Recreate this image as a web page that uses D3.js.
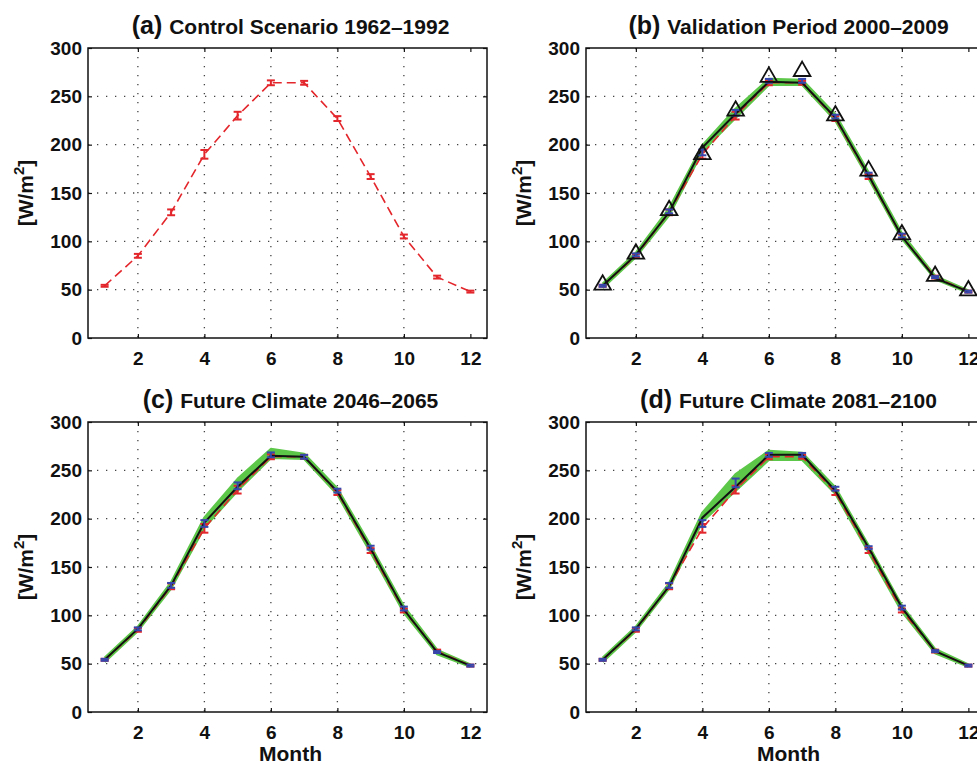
<!DOCTYPE html>
<html>
<head>
<meta charset="utf-8">
<script src="https://cdn.jsdelivr.net/npm/d3@7"></script>
<style>
  body { margin: 0; background: #fff; }
  svg { display: block; font-family: "Liberation Sans", Arial, Helvetica, sans-serif; }
  .tick-label { font-size: 19px; font-weight: bold; fill: #111; }
  .axis-title { font-size: 21px; font-weight: bold; fill: #111; }
</style>
</head>
<body>
<svg id="chart" width="977" height="766"></svg>
<script>
const months = [1, 2, 3, 4, 5, 6, 7, 8, 9, 10, 11, 12];
const xTicks = [2, 4, 6, 8, 10, 12];
const yTicks = [0, 50, 100, 150, 200, 250, 300];

// control run 1962-1992 (red dashed, shown in every panel)
const controlMean = [54, 85, 130, 190, 230, 264, 264, 227, 167, 105, 63, 48];
const controlErr = [1, 2, 3, 4.5, 4, 2.5, 2, 2.5, 2.5, 2, 1.5, 1];

// (b) validation 2000-2009
const obsValidation = [55, 87, 132, 190, 235, 270, 276, 230, 173, 107, 64, 49];
const valEnsMean = [54, 86, 130, 197, 232, 265, 264, 228, 168, 105, 62, 48];
const valModel = [54, 86, 131, 192, 233, 266, 266, 229, 169, 106, 63, 48];
const valModelErr = [1, 1.5, 2, 3, 3, 2, 2, 2, 2, 2, 1, 1];
const valEnsLow = [52, 84, 127, 193, 228, 262, 262, 225, 165, 103, 61, 47];
const valEnsHigh = [56, 88, 134, 199, 237, 268, 267, 231, 171, 108, 64, 49];

// (c) future 2046-2065
const midEnsMean = [54, 86, 131, 196, 233, 265, 264, 228, 169, 106, 62, 48];
const midModel = [54, 86, 131, 195, 234, 266, 264, 229, 170, 107, 62, 48];
const midModelErr = [1, 1.5, 2.5, 3.5, 3.5, 2.5, 2, 2, 2, 2, 1, 1];
const midEnsLow = [52, 84, 128, 191, 229, 263, 262, 225, 165, 103, 60, 47];
const midEnsHigh = [56, 88, 134, 201, 241, 272, 267, 231, 172, 109, 64, 49];

// (d) future 2081-2100
const lateEnsMean = [54, 86, 130, 201, 233, 266, 266, 229, 170, 108, 63, 48];
const lateModel = [54, 86, 131, 195, 237, 266, 266, 231, 170, 108, 63, 48];
const lateModelErr = [1, 1.5, 2.5, 3.5, 4.5, 2, 2, 2, 1.5, 2, 1, 1];
const lateEnsLow = [52, 84, 128, 197, 229, 261, 261, 226, 165, 104, 61, 47];
const lateEnsHigh = [56, 88, 133, 206, 246, 270, 268, 232, 172, 110, 65, 49];

const RED = "#e3262b", BLUE = "#3547ad", GREEN = "#5cc748";

class MonthlyPanel {

    constructor(svg, left, top) {
        this.width = 399;
        this.height = 290;
        this.g = svg.append("g").attr("transform", "translate(" + left + "," + top + ")");
        this.x = d3.scaleLinear().domain([0.5, 12.5]).range([0, this.width]);
        this.y = d3.scaleLinear().domain([0, 300]).range([this.height, 0]);
        this.line = d3.line().x((d, i) => this.x(months[i])).y(d => this.y(d));
    }

    drawFrame(label, title, showMonth) {
        let g = this.g;

        // dotted grid
        g.append("g").selectAll("line").data(xTicks.slice(0, -1)).enter().append("line")
            .attr("x1", d => this.x(d)).attr("x2", d => this.x(d))
            .attr("y1", 0).attr("y2", this.height);
        g.append("g").selectAll("line").data(yTicks.slice(1, -1)).enter().append("line")
            .attr("x1", 0).attr("x2", this.width)
            .attr("y1", d => this.y(d)).attr("y2", d => this.y(d));
        g.selectAll("g line")
            .attr("stroke", "#444").attr("stroke-width", 1.3).attr("stroke-dasharray", "1.3,7.7");

        // matlab style axes: ticks inward on all four sides
        let bottom = g.append("g").attr("transform", "translate(0," + this.height + ")")
            .call(d3.axisBottom(this.x).tickValues(xTicks).tickSizeInner(-4).tickSizeOuter(0).tickPadding(9));
        let left = g.append("g")
            .call(d3.axisLeft(this.y).tickValues(yTicks).tickSizeInner(-4).tickSizeOuter(0).tickPadding(6));
        let top = g.append("g")
            .call(d3.axisTop(this.x).tickValues(xTicks).tickSizeInner(-4).tickSizeOuter(0).tickFormat(""));
        let right = g.append("g").attr("transform", "translate(" + this.width + ",0)")
            .call(d3.axisRight(this.y).tickValues(yTicks).tickSizeInner(-4).tickSizeOuter(0).tickFormat(""));
        [bottom, left, top, right].forEach(a => {
            a.select(".domain").remove();
            a.selectAll("line").attr("stroke", "#111").attr("stroke-width", 1.2);
            a.selectAll("text").attr("class", "tick-label").attr("fill", null);
        });
        bottom.selectAll("text").attr("dy", "0.95em");
        g.append("rect")
            .attr("width", this.width).attr("height", this.height)
            .attr("fill", "none").attr("stroke", "#111").attr("stroke-width", 1.5);

        // title
        let t = g.append("text")
            .attr("x", this.width / 2 + 3).attr("y", -14)
            .attr("text-anchor", "middle")
            .attr("font-weight", "bold").attr("fill", "#111");
        t.append("tspan").attr("font-size", 25).text(label + " ");
        t.append("tspan").attr("font-size", 21).text(title);

        // y label with superscript
        let yl = g.append("text")
            .attr("class", "axis-title")
            .attr("transform", "translate(-55," + this.height / 2 + ") rotate(-90)")
            .attr("text-anchor", "middle");
        yl.append("tspan").text("[W/m");
        yl.append("tspan").attr("dy", -9).attr("font-size", 15).text("2");
        yl.append("tspan").attr("dy", 9).text("]");

        if (showMonth) {
            g.append("text")
                .attr("class", "axis-title")
                .attr("x", this.width / 2 + 3).attr("y", this.height + 49)
                .attr("text-anchor", "middle")
                .text("Month");
        }
    }

    drawBand(low, high) {
        let area = d3.area()
            .x((d, i) => this.x(months[i]))
            .y0((d, i) => this.y(low[i]))
            .y1(d => this.y(d));
        this.g.append("path").datum(high)
            .attr("d", area).attr("fill", GREEN);
        [low, high].forEach(s => {
            this.g.append("path").datum(s)
                .attr("d", this.line)
                .attr("fill", "none").attr("stroke", GREEN)
                .attr("stroke-width", 2.5).attr("stroke-linejoin", "round");
        });
    }

    drawLine(values, color, width, dash) {
        this.g.append("path").datum(values)
            .attr("d", this.line)
            .attr("fill", "none").attr("stroke", color)
            .attr("stroke-width", width)
            .attr("stroke-dasharray", dash || null);
    }

    drawErrorBars(values, errs, color) {
        let bars = this.g.append("g")
            .attr("stroke", color).attr("stroke-width", 2)
            .selectAll("g").data(values).enter().append("g");
        let cap = 4;
        bars.append("line")
            .attr("x1", (d, i) => this.x(months[i])).attr("x2", (d, i) => this.x(months[i]))
            .attr("y1", (d, i) => this.y(d - errs[i])).attr("y2", (d, i) => this.y(d + errs[i]));
        bars.append("line")
            .attr("x1", (d, i) => this.x(months[i]) - cap).attr("x2", (d, i) => this.x(months[i]) + cap)
            .attr("y1", (d, i) => this.y(d - errs[i])).attr("y2", (d, i) => this.y(d - errs[i]));
        bars.append("line")
            .attr("x1", (d, i) => this.x(months[i]) - cap).attr("x2", (d, i) => this.x(months[i]) + cap)
            .attr("y1", (d, i) => this.y(d + errs[i])).attr("y2", (d, i) => this.y(d + errs[i]));
    }

    drawTriangles(values) {
        let tri = d3.symbol().type(d3.symbolTriangle).size(120);
        this.g.append("g").selectAll("path").data(values).enter().append("path")
            .attr("d", tri)
            .attr("transform", (d, i) => "translate(" + this.x(months[i]) + "," + this.y(d) + ")")
            .attr("fill", "none").attr("stroke", "#111").attr("stroke-width", 1.8);
    }
}

const svg = d3.select("#chart");

let pa = new MonthlyPanel(svg, 88, 48);
pa.drawFrame("(a)", "Control Scenario 1962\u20131992", false);
pa.drawLine(controlMean, RED, 1.6, "9,5");
pa.drawErrorBars(controlMean, controlErr, RED);

let pb = new MonthlyPanel(svg, 586, 48);
pb.drawFrame("(b)", "Validation Period 2000\u20132009", false);
pb.drawBand(valEnsLow, valEnsHigh);
pb.drawLine(controlMean, RED, 1.6, "9,5");
pb.drawErrorBars(controlMean, controlErr, RED);
pb.drawLine(valEnsMean, "#111", 2);
pb.drawErrorBars(valModel, valModelErr, BLUE);
pb.drawTriangles(obsValidation);

let pc = new MonthlyPanel(svg, 88, 422);
pc.drawFrame("(c)", "Future Climate 2046\u20132065", true);
pc.drawBand(midEnsLow, midEnsHigh);
pc.drawLine(controlMean, RED, 1.6, "9,5");
pc.drawErrorBars(controlMean, controlErr, RED);
pc.drawLine(midEnsMean, "#111", 2);
pc.drawErrorBars(midModel, midModelErr, BLUE);

let pd = new MonthlyPanel(svg, 586, 422);
pd.drawFrame("(d)", "Future Climate 2081\u20132100", true);
pd.drawBand(lateEnsLow, lateEnsHigh);
pd.drawLine(controlMean, RED, 1.6, "9,5");
pd.drawErrorBars(controlMean, controlErr, RED);
pd.drawLine(lateEnsMean, "#111", 2);
pd.drawErrorBars(lateModel, lateModelErr, BLUE);
</script>
</body>
</html>
